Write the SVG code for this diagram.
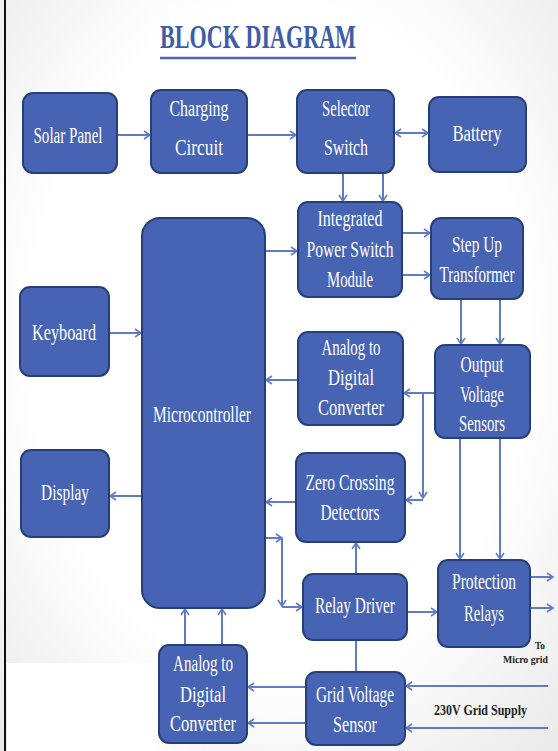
<svg xmlns="http://www.w3.org/2000/svg" width="558" height="751" viewBox="0 0 558 751">
<style>
.box{fill:#4763b3;stroke:#263f7a;stroke-width:2}
.t{font-family:"Liberation Serif","DejaVu Serif",serif;font-size:24px;fill:#ffffff;text-anchor:middle}
.c{fill:none;stroke:#5f7bc6;stroke-width:2}
.title{font-family:"Liberation Serif",serif;font-weight:bold;font-size:34px;fill:#3e5ca8}
.small{font-family:"Liberation Serif",serif;font-weight:bold;fill:#222222}
</style>
<defs>
<radialGradient id="bg" cx="50%" cy="45%" r="72%">
<stop offset="0.62" stop-color="#ffffff"/>
<stop offset="1" stop-color="#ebebeb"/>
</radialGradient>
<linearGradient id="fade" x1="0" y1="0" x2="1" y2="0">
<stop offset="0" stop-color="#ffffff"/>
<stop offset="0.7" stop-color="#ffffff"/>
<stop offset="1" stop-color="#ffffff" stop-opacity="0"/>
</linearGradient>
<marker id="ah" markerWidth="10" markerHeight="10" refX="8" refY="5" orient="auto" markerUnits="userSpaceOnUse">
<path d="M2,1 L8,5 L2,9" fill="none" stroke="#5f7bc6" stroke-width="1.6"/>
</marker>
<marker id="as" markerWidth="10" markerHeight="10" refX="2" refY="5" orient="auto" markerUnits="userSpaceOnUse">
<path d="M8,1 L2,5 L8,9" fill="none" stroke="#5f7bc6" stroke-width="1.6"/>
</marker>
</defs>
<rect x="0" y="0" width="558" height="751" fill="url(#bg)"/>
<rect x="7" y="663" width="200" height="88" fill="url(#fade)"/>
<line x1="5" y1="0" x2="5" y2="751" stroke="#111111" stroke-width="2"/>
<g id="title">
<text class="title" x="160" y="48" textLength="196" lengthAdjust="spacingAndGlyphs">BLOCK DIAGRAM</text>
<line x1="160" y1="58" x2="356" y2="58" stroke="#4a66b0" stroke-width="2.5"/>
</g>
<g id="connectors">
<path class="c" d="M117,135 H150" marker-end="url(#ah)"/>
<path class="c" d="M247,135 H296" marker-end="url(#ah)"/>
<path class="c" d="M395,133 H428" marker-start="url(#as)" marker-end="url(#ah)"/>
<path class="c" d="M343,173 V201" marker-end="url(#ah)"/>
<path class="c" d="M383,173 V201" marker-end="url(#ah)"/>
<path class="c" d="M265,251 H297" marker-end="url(#ah)"/>
<path class="c" d="M402,233 H430" marker-end="url(#ah)"/>
<path class="c" d="M402,275 H430" marker-end="url(#ah)"/>
<path class="c" d="M461,299 V344" marker-end="url(#ah)"/>
<path class="c" d="M500,299 V344" marker-end="url(#ah)"/>
<path class="c" d="M109,333 H141" marker-end="url(#ah)"/>
<path class="c" d="M298,380 H266" marker-end="url(#ah)"/>
<path class="c" d="M435,393 H404" marker-end="url(#ah)"/>
<path class="c" d="M423,393 V498" marker-end="url(#ah)"/>
<path class="c" d="M423,500 H406" marker-end="url(#ah)"/>
<path class="c" d="M142,496 H110" marker-end="url(#ah)"/>
<path class="c" d="M296,502 H266" marker-end="url(#ah)"/>
<path class="c" d="M460,438 V559" marker-end="url(#ah)"/>
<path class="c" d="M500,438 V559" marker-end="url(#ah)"/>
<path class="c" d="M265,538 H282" marker-end="url(#ah)"/>
<path class="c" d="M282,538 V606" marker-end="url(#ah)"/>
<path class="c" d="M282,607 H302" marker-end="url(#ah)"/>
<path class="c" d="M356,574 V543" marker-end="url(#ah)"/>
<path class="c" d="M407,612 H437" marker-end="url(#ah)"/>
<path class="c" d="M530,577 H553" marker-end="url(#ah)"/>
<path class="c" d="M530,608 H553" marker-end="url(#ah)"/>
<path class="c" d="M356,640 V672"/>
<path class="c" d="M306,687 H248" marker-end="url(#ah)"/>
<path class="c" d="M306,723 H248" marker-end="url(#ah)"/>
<path class="c" d="M185,645 V609" marker-end="url(#ah)"/>
<path class="c" d="M222,645 V609" marker-end="url(#ah)"/>
<path class="c" d="M548,686 H406" marker-end="url(#ah)"/>
<path class="c" d="M548,728 H406" marker-end="url(#ah)"/>
</g>
<g id="solar-panel">
<rect class="box" x="23" y="93" width="94" height="80" rx="10"/>
<text class="t" x="68" y="143" textLength="69" lengthAdjust="spacingAndGlyphs">Solar Panel</text>
</g>
<g id="charging-circuit">
<rect class="box" x="151" y="90" width="96" height="83" rx="10"/>
<text class="t" x="199" y="116" textLength="59" lengthAdjust="spacingAndGlyphs">Charging</text>
<text class="t" x="199" y="155" textLength="48" lengthAdjust="spacingAndGlyphs">Circuit</text>
</g>
<g id="selector-switch">
<rect class="box" x="297" y="90" width="97" height="83" rx="10"/>
<text class="t" x="346" y="116" textLength="48" lengthAdjust="spacingAndGlyphs">Selector</text>
<text class="t" x="346" y="155" textLength="44" lengthAdjust="spacingAndGlyphs">Switch</text>
</g>
<g id="battery">
<rect class="box" x="429" y="97" width="97" height="75" rx="10"/>
<text class="t" x="477" y="141" textLength="49" lengthAdjust="spacingAndGlyphs">Battery</text>
</g>
<g id="integrated-power-switch-module">
<rect class="box" x="298" y="202" width="104" height="95" rx="10"/>
<text class="t" x="350" y="226" textLength="65" lengthAdjust="spacingAndGlyphs">Integrated</text>
<text class="t" x="350" y="257" textLength="87" lengthAdjust="spacingAndGlyphs">Power Switch</text>
<text class="t" x="350" y="287" textLength="46" lengthAdjust="spacingAndGlyphs">Module</text>
</g>
<g id="step-up-transformer">
<rect class="box" x="431" y="218" width="92" height="81" rx="10"/>
<text class="t" x="477" y="252" textLength="50" lengthAdjust="spacingAndGlyphs">Step Up</text>
<text class="t" x="477" y="282" textLength="75" lengthAdjust="spacingAndGlyphs">Transformer</text>
</g>
<g id="microcontroller">
<rect class="box" x="142" y="218" width="123" height="390" rx="18"/>
<text class="t" x="202" y="422" textLength="98" lengthAdjust="spacingAndGlyphs">Microcontroller</text>
</g>
<g id="keyboard">
<rect class="box" x="20" y="287" width="89" height="89" rx="10"/>
<text class="t" x="64" y="340" textLength="64" lengthAdjust="spacingAndGlyphs">Keyboard</text>
</g>
<g id="adc-top">
<rect class="box" x="298" y="332" width="105" height="93" rx="10"/>
<text class="t" x="351" y="355" textLength="59" lengthAdjust="spacingAndGlyphs">Analog to</text>
<text class="t" x="351" y="385" textLength="46" lengthAdjust="spacingAndGlyphs">Digital</text>
<text class="t" x="351" y="415" textLength="66" lengthAdjust="spacingAndGlyphs">Converter</text>
</g>
<g id="output-voltage-sensors">
<rect class="box" x="435" y="345" width="95" height="93" rx="10"/>
<text class="t" x="482" y="372" textLength="43" lengthAdjust="spacingAndGlyphs">Output</text>
<text class="t" x="482" y="402" textLength="44" lengthAdjust="spacingAndGlyphs">Voltage</text>
<text class="t" x="482" y="431" textLength="46" lengthAdjust="spacingAndGlyphs">Sensors</text>
</g>
<g id="display">
<rect class="box" x="21" y="450" width="88" height="87" rx="10"/>
<text class="t" x="65" y="500" textLength="48" lengthAdjust="spacingAndGlyphs">Display</text>
</g>
<g id="zero-crossing-detectors">
<rect class="box" x="296" y="453" width="109" height="89" rx="10"/>
<text class="t" x="350" y="490" textLength="89" lengthAdjust="spacingAndGlyphs">Zero Crossing</text>
<text class="t" x="350" y="520" textLength="59" lengthAdjust="spacingAndGlyphs">Detectors</text>
</g>
<g id="relay-driver">
<rect class="box" x="303" y="574" width="104" height="66" rx="10"/>
<text class="t" x="355" y="613" textLength="80" lengthAdjust="spacingAndGlyphs">Relay Driver</text>
</g>
<g id="protection-relays">
<rect class="box" x="438" y="560" width="92" height="87" rx="10"/>
<text class="t" x="484" y="589" textLength="64" lengthAdjust="spacingAndGlyphs">Protection</text>
<text class="t" x="484" y="621" textLength="40" lengthAdjust="spacingAndGlyphs">Relays</text>
</g>
<g id="adc-bottom">
<rect class="box" x="159" y="645" width="88" height="98" rx="10"/>
<text class="t" x="203" y="671" textLength="60" lengthAdjust="spacingAndGlyphs">Analog to</text>
<text class="t" x="203" y="702" textLength="46" lengthAdjust="spacingAndGlyphs">Digital</text>
<text class="t" x="203" y="731" textLength="66" lengthAdjust="spacingAndGlyphs">Converter</text>
</g>
<g id="grid-voltage-sensor">
<rect class="box" x="306" y="672" width="99" height="73" rx="10"/>
<text class="t" x="355" y="702" textLength="78" lengthAdjust="spacingAndGlyphs">Grid Voltage</text>
<text class="t" x="355" y="732" textLength="44" lengthAdjust="spacingAndGlyphs">Sensor</text>
</g>
<g id="labels">
<text class="small" x="434" y="715" font-size="15" textLength="93" lengthAdjust="spacingAndGlyphs">230V Grid Supply</text>
<text class="small" x="535" y="649" font-size="11" textLength="10" lengthAdjust="spacingAndGlyphs">To</text>
<text class="small" x="503" y="663" font-size="11" textLength="45" lengthAdjust="spacingAndGlyphs">Micro grid</text>
</g>
</svg>
